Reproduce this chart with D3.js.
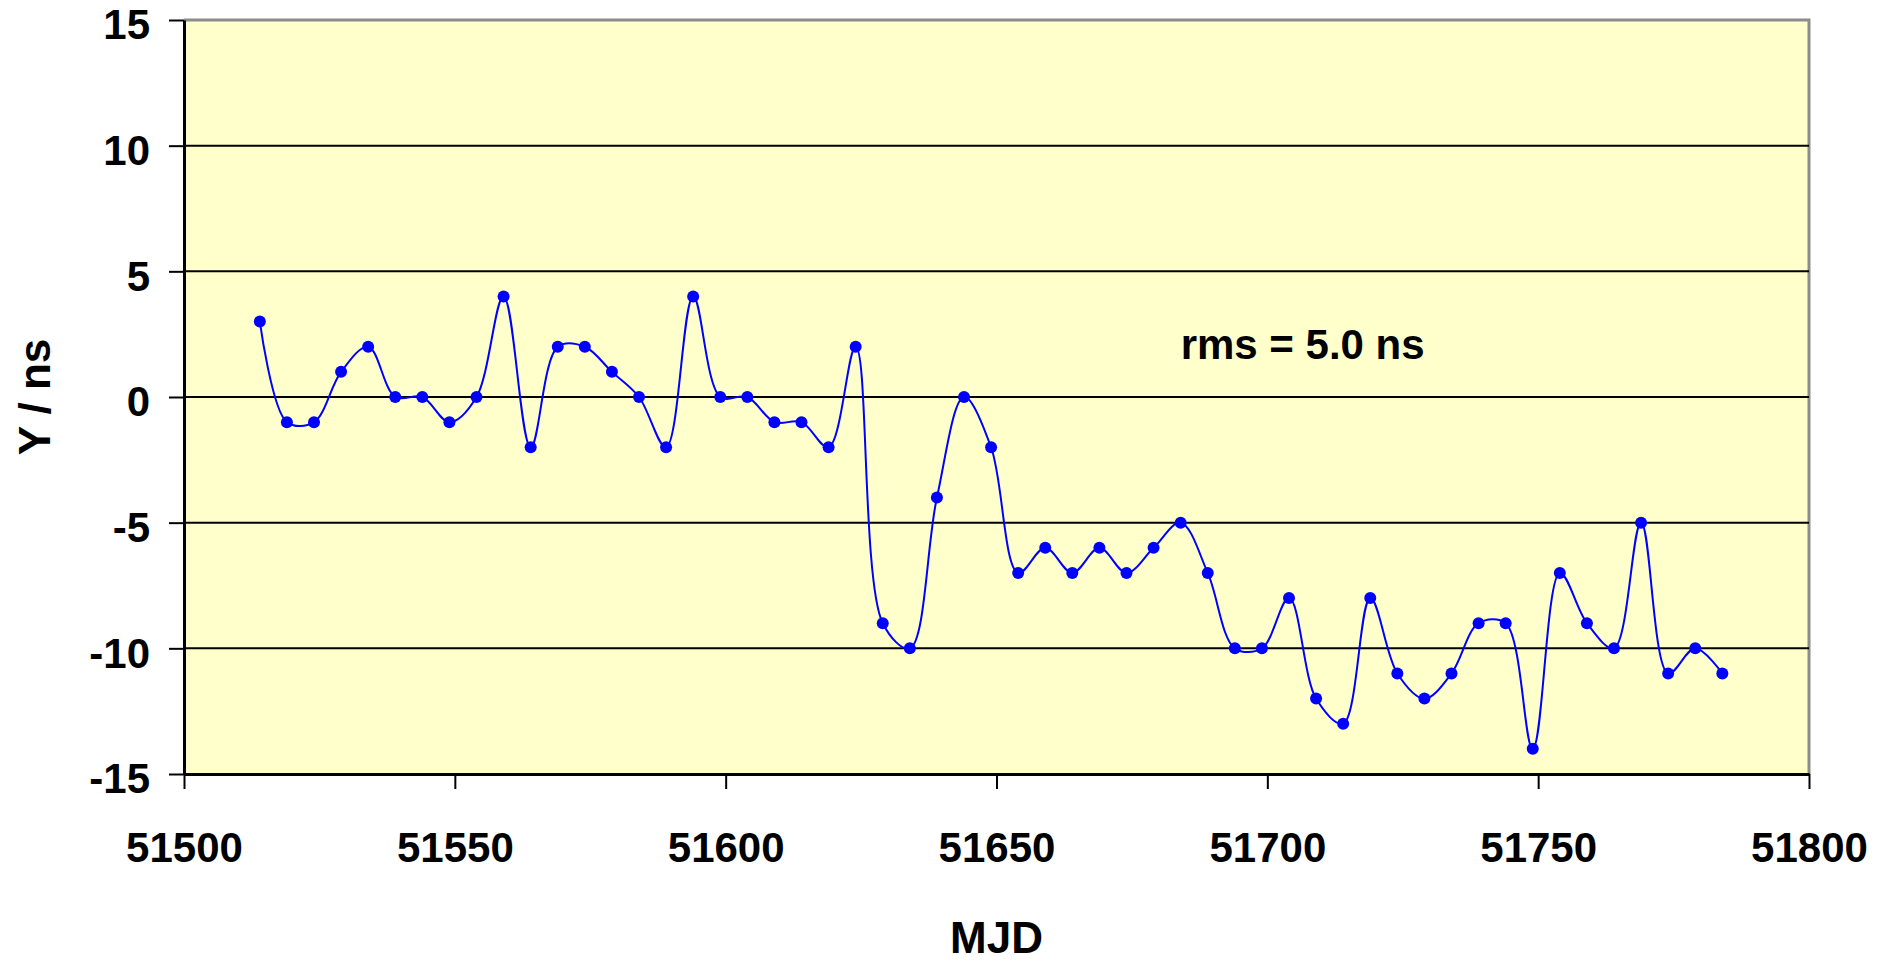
<!DOCTYPE html>
<html>
<head>
<meta charset="utf-8">
<script src="https://cdn.jsdelivr.net/npm/d3@7"></script>
<style>
    body { margin: 0; background: #fff; }
    text { font-family: Arial, "Liberation Sans", sans-serif; font-weight: bold; }
</style>
</head>
<body>
<svg id="chart" width="1892" height="965"></svg>
<script>

// MJD of each measurement
var mjd = [
    51514, 51519, 51524, 51529, 51534, 51539, 51544, 51549, 51554, 51559,
    51564, 51569, 51574, 51579, 51584, 51589, 51594, 51599, 51604, 51609,
    51614, 51619, 51624, 51629, 51634, 51639, 51644, 51649, 51654, 51659,
    51664, 51669, 51674, 51679, 51684, 51689, 51694, 51699, 51704, 51709,
    51714, 51719, 51724, 51729, 51734, 51739, 51744, 51749, 51754, 51759,
    51764, 51769, 51774, 51779, 51784
];

// Y / ns
var yValues = [
    3, -1, -1, 1, 2, 0, 0, -1, 0, 4,
    -2, 2, 2, 1, 0, -2, 4, 0, 0, -1,
    -1, -2, 2, -9, -10, -4, 0, -2, -7, -6,
    -7, -6, -7, -6, -5, -7, -10, -10, -8, -12,
    -13, -8, -11, -12, -11, -9, -9, -14, -7, -9,
    -10, -5, -11, -10, -11
];

var xTicks = [51500, 51550, 51600, 51650, 51700, 51750, 51800];
var yTicks = [-15, -10, -5, 0, 5, 10, 15];
var gridValues = [-10, -5, 0, 5, 10];

var rmsLabel = 'rms = 5.0 ns';
var xTitle = 'MJD';
var yTitle = 'Y / ns';

(function () {

    var left = 184, right = 1809, top = 20, bottom = 774;

    var svg = d3.select('#chart');

    var x = d3.scaleLinear().domain([51500, 51800]).range([left, right]);
    var y = d3.scaleLinear().domain([-15, 15]).range([bottom, top]);

    // plain hyphen for negatives, like the original
    var plain = function (d) { return String(d); };

    var points = mjd.map(function (d, i) {
        return { x: d, y: yValues[i] };
    });

    // plot area
    svg.append('rect')
        .attr('x', left)
        .attr('y', top)
        .attr('width', right - left)
        .attr('height', bottom - top)
        .attr('fill', '#ffffcc');

    // top and right border
    svg.append('path')
        .attr('d', 'M' + left + ',' + y(15) + 'H' + right + 'V' + bottom)
        .attr('fill', 'none')
        .attr('stroke', '#8c8c8c')
        .attr('stroke-width', 3);

    svg.selectAll('.grid')
        .data(gridValues)
        .enter()
        .append('line')
        .attr('class', 'grid')
        .attr('x1', left)
        .attr('x2', right)
        .attr('y1', function (d) { return y(d); })
        .attr('y2', function (d) { return y(d); })
        .attr('stroke', '#000')
        .attr('stroke-width', 2);

    var yAxis = svg.append('g')
        .attr('transform', 'translate(' + left + ',0)')
        .call(d3.axisLeft(y).tickValues(yTicks).tickFormat(plain).tickSize(15).tickPadding(19).tickSizeOuter(0));
    yAxis.select('.domain').attr('stroke-width', 3);
    yAxis.selectAll('.tick line').attr('stroke-width', 2);
    yAxis.selectAll('text')
        .attr('font-size', 42)
        .attr('dy', '0.45em')
        .attr('fill', '#000');

    var xAxis = svg.append('g')
        .attr('transform', 'translate(0,' + bottom + ')')
        .call(d3.axisBottom(x).tickValues(xTicks).tickFormat(plain).tickSize(15).tickPadding(43).tickSizeOuter(0));
    xAxis.select('.domain').attr('stroke-width', 3);
    xAxis.selectAll('.tick line').attr('stroke-width', 2);
    xAxis.selectAll('text')
        .attr('font-size', 42)
        .attr('fill', '#000');

    // smoothed line like the spreadsheet one
    var line = d3.line()
        .x(function (d) { return x(d.x); })
        .y(function (d) { return y(d.y); })
        .curve(d3.curveCatmullRom.alpha(0.5));

    svg.append('path')
        .datum(points)
        .attr('d', line)
        .attr('fill', 'none')
        .attr('stroke', '#0000ff')
        .attr('stroke-width', 2);

    svg.selectAll('.dot')
        .data(points)
        .enter()
        .append('circle')
        .attr('class', 'dot')
        .attr('cx', function (d) { return x(d.x); })
        .attr('cy', function (d) { return y(d.y); })
        .attr('r', 6)
        .attr('fill', '#0000ff');

    svg.append('text')
        .attr('x', x(51684))
        .attr('y', y(1.5))
        .attr('font-size', 42)
        .text(rmsLabel);

    svg.append('text')
        .attr('x', (left + right) / 2)
        .attr('y', 953)
        .attr('text-anchor', 'middle')
        .attr('font-size', 44)
        .text(xTitle);

    svg.append('text')
        .attr('transform', 'translate(50,' + (top + bottom) / 2 + ') rotate(-90)')
        .attr('text-anchor', 'middle')
        .attr('font-size', 44)
        .text(yTitle);

})();
</script>
</body>
</html>
